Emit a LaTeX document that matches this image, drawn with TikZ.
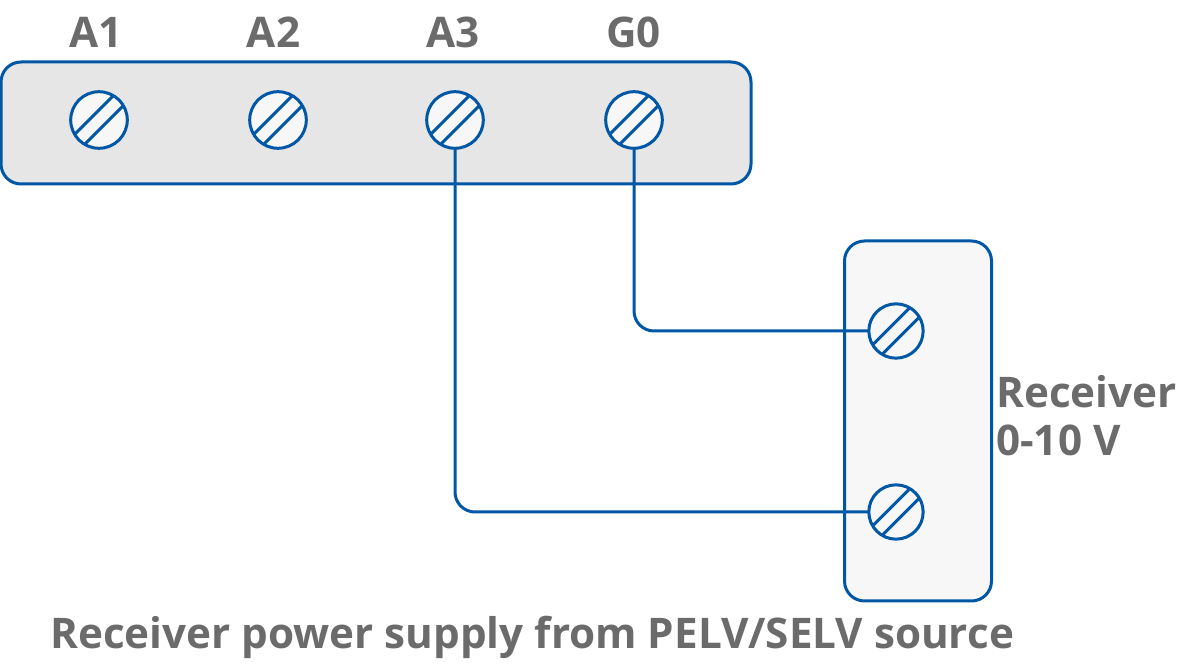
\documentclass[tikz,border=0pt]{standalone}
\usepackage{fontspec}
\setmainfont{Open Sans}
\definecolor{wire}{HTML}{0057A6}
\definecolor{lab}{HTML}{6B6B6B}
\definecolor{stripfill}{HTML}{E6E6E6}
\definecolor{softfill}{HTML}{F7F7F7}
\def\screwr{28.3}
\def\screwg{10}
\tikzset{
 x=0.75pt,y=-0.75pt,
 screw/.pic={
  \fill[softfill] (0,0) circle (\screwr);
  \begin{scope}
   \clip (0,0) circle (\screwr);
   \draw[wire,line width=2.25pt] (-\screwr-\screwg,\screwr) -- (\screwr-\screwg,-\screwr);
   \draw[wire,line width=2.25pt] (-\screwr+\screwg,\screwr) -- (\screwr+\screwg,-\screwr);
  \end{scope}
  \draw[wire,line width=2.25pt] (0,0) circle (\screwr);
 },
 lbl/.style={text=lab,font=\bfseries\fontsize{31.65pt}{36pt}\selectfont,inner sep=0pt},
 wireline/.style={wire,line width=2.25pt,rounded corners=15pt},
}
\begin{document}
\begin{tikzpicture}
\useasboundingbox (0,0) rectangle (1179,666);
\fill[white] (0,0) rectangle (1179,666);
\node[draw=wire,fill=stripfill,line width=2.25pt,rounded corners=15pt,minimum width=750*0.75pt,minimum height=122*0.75pt,inner sep=0pt] (strip) at (376,123) {};
\node[draw=wire,fill=softfill,line width=2.25pt,rounded corners=15pt,minimum width=147*0.75pt,minimum height=360*0.75pt,inner sep=0pt] (recv) at (918,421) {};
\coordinate (a1) at (99,120);
\coordinate (a2) at (278,120);
\coordinate (a3) at (455,120);
\coordinate (g0) at (634,120);
\coordinate (r1) at (896,331);
\coordinate (r2) at (896,512);
\draw[wireline] (g0) |- (r1);
\draw[wireline] (a3) |- (r2);
\foreach \c in {a1,a2,a3,g0} \pic at (\c) {screw};
\foreach \c in {r1,r2} \pic[scale=0.96] at (\c) {screw};
\node[lbl,anchor=base] (t1) at (96,48) {A1};
\node[lbl,anchor=base] (t2) at (273.5,48) {A2};
\node[lbl,anchor=base] (t3) at (453,48) {A3};
\node[lbl,anchor=base] (t4) at (633.5,48) {G0};
\node[lbl,anchor=base west] (t5) at (996,408) {Receiver};
\node[lbl,anchor=base west] (t6) at (996,456) {0-10 V};
\node[lbl,anchor=base west] (t7) at (50,648) {Receiver power supply from PELV/SELV source};
\end{tikzpicture}
\end{document}
